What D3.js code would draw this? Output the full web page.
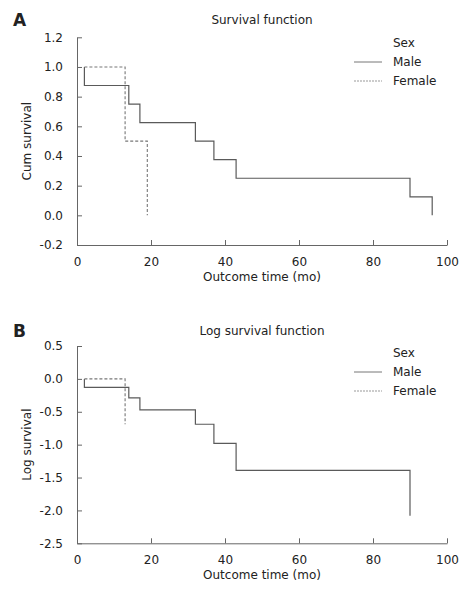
<!DOCTYPE html>
<html><head><meta charset="utf-8">
<script src="https://cdn.jsdelivr.net/npm/d3@7"></script>
<style>
body{margin:0;background:#fff;}
text{font-family:"DejaVu Sans",Verdana,sans-serif;fill:#222;}
</style></head>
<body><svg id="c" width="472" height="600"></svg>
<script>
// ---- data ----
const xTicks = [0, 20, 40, 60, 80, 100];
const survTicks = [1.2, 1.0, 0.8, 0.6, 0.4, 0.2, 0.0, -0.2];
const logTicks = [0.5, 0.0, -0.5, -1.0, -1.5, -2.0, -2.5];
const legendLabels = ["Male", "Female"];

// Survival function (step points)
const maleTimes = [2, 2, 14, 17, 32, 37, 43, 90, 96];
const maleSurv  = [1.0, 0.875, 0.75, 0.625, 0.5, 0.375, 0.25, 0.125, 0.0];
const femaleTimes = [2, 13, 19];
const femaleSurv  = [1.0, 0.5, 0.0];

// Log survival function
const maleLogTimes = [2, 2, 14, 17, 32, 37, 43, 90];
const maleLog      = [0.0, -0.13, -0.29, -0.47, -0.69, -0.98, -1.39, -2.08];
const femaleLogTimes = [2, 13];
const femaleLog      = [0.0, -0.69];

const svg = d3.select("#c");
const lineCol = "#666";

function panel(o) {
  const g = svg.append("g");
  const x = d3.scaleLinear().domain([0, 100]).range([77, 447]);
  const y = d3.scaleLinear().domain(o.yDomain).range([o.bottom, o.top]);

  const xa = g.append("g").attr("transform", `translate(0,${o.bottom})`)
    .call(d3.axisBottom(x).tickValues(xTicks).tickSizeInner(-5).tickSizeOuter(0).tickPadding(12).tickFormat(d3.format("d")));
  const ya = g.append("g").attr("transform", `translate(77,0)`)
    .call(d3.axisLeft(y).tickValues(o.ticks).tickSizeInner(-5).tickSizeOuter(0).tickPadding(14).tickFormat(d3.format(".1f")));
  [xa, ya].forEach(a => {
    a.select(".domain").attr("stroke", lineCol);
    a.selectAll(".tick line").attr("stroke", lineCol);
    a.selectAll("text").attr("font-size", 12).attr("fill", "#222")
      .style("font-family", '"DejaVu Sans",Verdana,sans-serif');
  });
  ya.selectAll("text").text(d => d3.format(".1f")(d).replace("−", "-"));

  const line = d3.line().x(d => x(d[0])).y(d => y(d[1])).curve(d3.curveStepAfter);
  g.append("path").datum(o.male).attr("d", line)
    .attr("fill", "none").attr("stroke", "#5a5a5a").attr("stroke-width", 1.2);
  g.append("path").datum(o.female).attr("d", line)
    .attr("fill", "none").attr("stroke", "#777").attr("stroke-width", 1.1).attr("stroke-dasharray", "3,2");

  g.append("text").attr("x", 262).attr("y", o.titleY).attr("text-anchor", "middle")
    .attr("font-size", 12).text(o.title);
  g.append("text").attr("x", 13).attr("y", o.titleY + 2).attr("font-size", 17)
    .attr("font-weight", "bold").attr("fill", "#000").text(o.letter);
  g.append("text").attr("x", 262).attr("y", o.bottom + 36).attr("text-anchor", "middle")
    .attr("font-size", 12).text("Outcome time (mo)");
  g.append("text").attr("transform", `translate(31,${(o.top + o.bottom) / 2}) rotate(-90)`)
    .attr("text-anchor", "middle").attr("font-size", 12).text(o.yTitle);

  const lg = g.append("g");
  lg.append("text").attr("x", 393).attr("y", o.legY).attr("font-size", 12).text("Sex");
  legendLabels.forEach((lab, i) => {
    const yy = o.legY + 19 * (i + 1);
    lg.append("line").attr("x1", 354).attr("x2", 382).attr("y1", yy - 4).attr("y2", yy - 4)
      .attr("stroke", i === 0 ? "#777" : "#999").attr("stroke-width", 1)
      .attr("stroke-dasharray", i === 0 ? null : "2,1");
    lg.append("text").attr("x", 393).attr("y", yy).attr("font-size", 12).text(lab);
  });
}

panel({
  letter: "A", title: "Survival function", yTitle: "Cum survival",
  yDomain: [-0.2, 1.2], top: 37.3, bottom: 245, ticks: survTicks, titleY: 24, legY: 47,
  male: maleTimes.map((t, i) => [t, maleSurv[i]]),
  female: femaleTimes.map((t, i) => [t, femaleSurv[i]])
});
panel({
  letter: "B", title: "Log survival function", yTitle: "Log survival",
  yDomain: [-2.5, 0.5], top: 346, bottom: 543.3, ticks: logTicks, titleY: 335, legY: 357,
  male: maleLogTimes.map((t, i) => [t, maleLog[i]]),
  female: femaleLogTimes.map((t, i) => [t, femaleLog[i]])
});
</script></body></html>
